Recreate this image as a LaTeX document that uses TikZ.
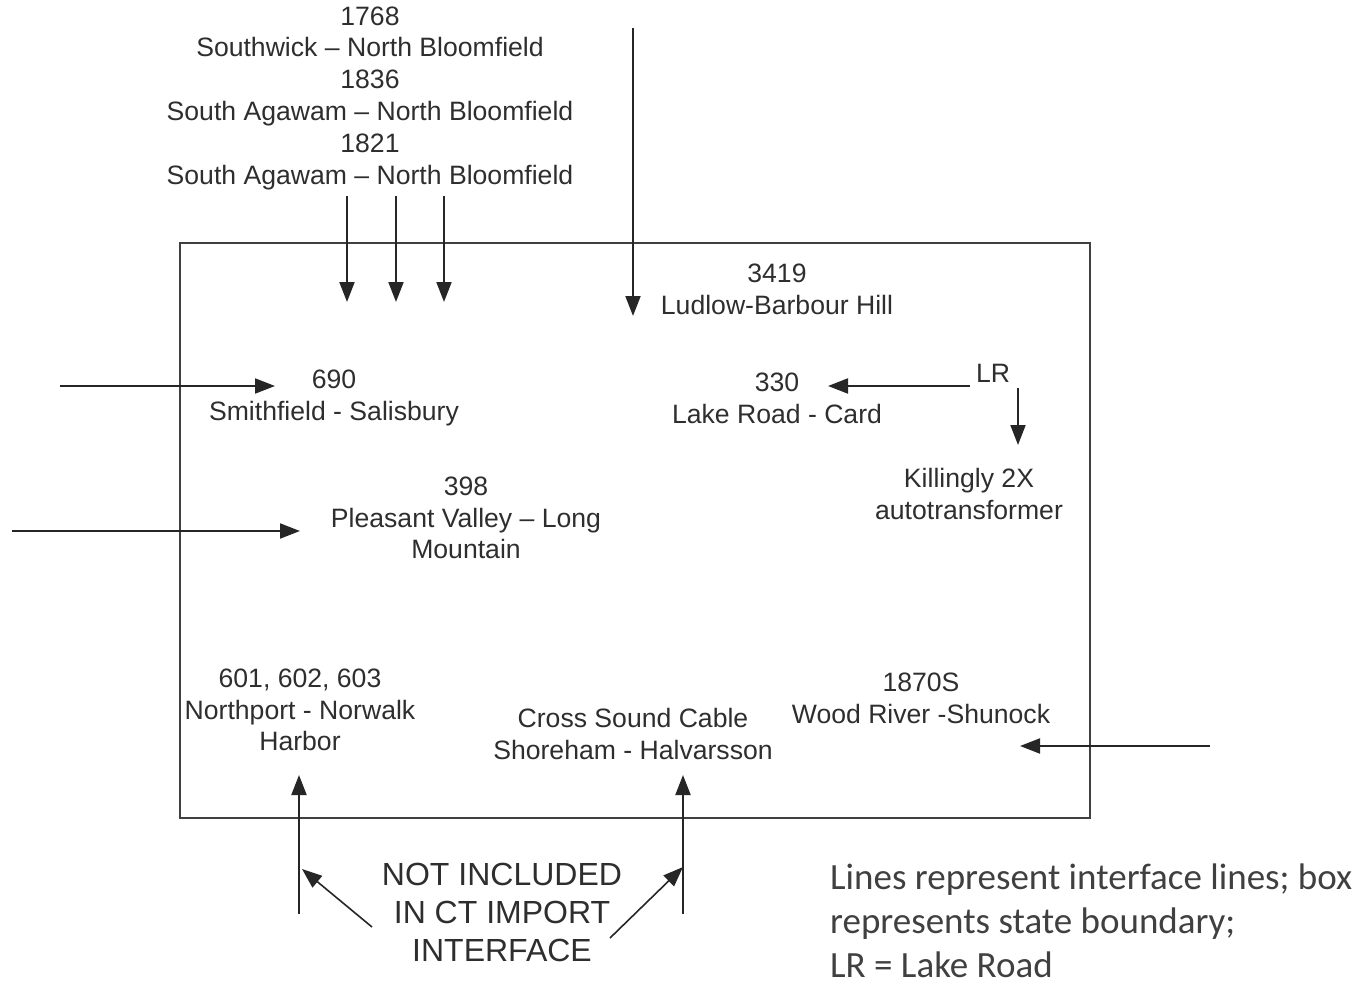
\documentclass[tikz,border=0pt]{standalone}
\usepackage{fontspec}
\setmainfont{Liberation Sans}
\newfontfamily\calib{Carlito}
\usetikzlibrary{arrows.meta}
\definecolor{txt}{HTML}{2E2E2E}
\definecolor{note}{HTML}{404040}
\begin{document}
\begin{tikzpicture}[x=1pt,y=-1pt,
  lbl/.style={align=center,text=txt,inner sep=0pt,font=\fontsize{26.6}{31.8}\selectfont},
  big/.style={align=center,text=txt,inner sep=0pt,font=\fontsize{32}{38}\selectfont},
  ln/.style={line width=2pt,draw=black!85,-{Triangle[length=20pt,width=15pt]}},
  boxline/.style={line width=2.5pt,draw=black!75}]
\useasboundingbox (0,0) rectangle (1363,987);
\draw[boxline] (180,243) rectangle (1090,818);
\node[lbl] (top) at (370,98) {1768\\Southwick – North Bloomfield\\1836\\South Agawam – North Bloomfield\\1821\\South Agawam – North Bloomfield};
\coordinate (a1s) at (347,196); \coordinate (a1e) at (347,302);
\coordinate (a2s) at (396,196); \coordinate (a2e) at (396,302);
\coordinate (a3s) at (444,196); \coordinate (a3e) at (444,302);
\draw[ln] (a1s) -- (a1e);
\draw[ln] (a2s) -- (a2e);
\draw[ln] (a3s) -- (a3e);
\coordinate (lds) at (633,28); \coordinate (lde) at (633,316);
\draw[ln] (lds) -- (lde);
\node[lbl] (lud) at (777,289) {3419\\Ludlow-Barbour Hill};
\node[lbl] (smith) at (334,398) {690\\Smithfield - Salisbury};
\coordinate (sms) at (60,386); \coordinate (sme) at (275,386);
\draw[ln] (sms) -- (sme);
\node[lbl] (lake) at (777,398) {330\\Lake Road - Card};
\node[lbl] (lr) at (993,373) {LR};
\coordinate (lrs) at (970,386); \coordinate (lre) at (828,386);
\draw[ln] (lrs) -- (lre);
\coordinate (lds2) at (1018,388); \coordinate (lde2) at (1018,445);
\draw[ln] (lds2) -- (lde2);
\node[lbl] (kil) at (969,494) {Killingly 2X\\autotransformer};
\node[lbl] (pv) at (466,518) {398\\Pleasant Valley – Long\\Mountain};
\coordinate (pvs) at (12,531); \coordinate (pve) at (300,531);
\draw[ln] (pvs) -- (pve);
\node[lbl] (np) at (300,710) {601, 602, 603\\Northport - Norwalk\\Harbor};
\node[lbl] (csc) at (633,734) {Cross Sound Cable\\Shoreham - Halvarsson};
\node[lbl] (wr) at (921,698) {1870S\\Wood River -Shunock};
\coordinate (wrs) at (1210,746); \coordinate (wre) at (1020,746);
\draw[ln] (wrs) -- (wre);
\coordinate (u1s) at (299,914); \coordinate (u1e) at (299,775);
\coordinate (u2s) at (683,914); \coordinate (u2e) at (683,775);
\draw[ln] (u1s) -- (u1e);
\draw[ln] (u2s) -- (u2e);
\node[big] (ni) at (502,912) {NOT INCLUDED\\IN CT IMPORT\\INTERFACE};
\coordinate (p1s) at (372,927); \coordinate (p1e) at (302,869);
\coordinate (p2s) at (610,938); \coordinate (p2e) at (683,867);
\draw[ln,line width=1.6pt] (p1s) -- (p1e);
\draw[ln,line width=1.6pt] (p2s) -- (p2e);
\node[anchor=west,align=left,text=note,inner sep=0pt,font=\calib\fontsize{37}{44}\selectfont] (notes) at (830,921) {Lines represent interface lines; box\\represents state boundary;\\LR = Lake Road};
\end{tikzpicture}
\end{document}
